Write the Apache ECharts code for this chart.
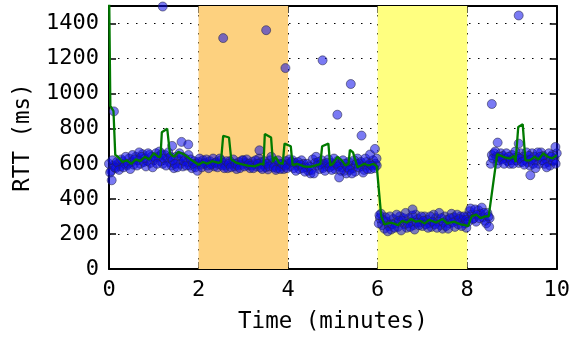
<!DOCTYPE html>
<html>
<head>
<meta charset="utf-8">
<script src="https://cdn.jsdelivr.net/npm/echarts@6/dist/echarts.min.js"></script>
<style>
html,body{margin:0;padding:0;background:#fff;}
#chart{width:573px;height:343px;}
</style>
</head>
<body>
<div id="chart"></div>
<script>
// Regular RTT samples [minutes, ms]
var rttSamples = [
[0.00,600],[0.05,560],[0.10,590],[0.15,575],[0.20,600],[0.25,585],[0.30,615],[0.35,600],[0.40,590],[0.45,630],
[0.50,610],[0.55,595],[0.60,640],[0.65,620],[0.70,600],[0.75,655],[0.80,630],[0.85,615],[0.90,650],[0.95,640],
[1.00,620],[1.05,660],[1.10,640],[1.15,615],[1.20,600],[1.25,650],[1.30,630],[1.35,610],[1.40,590],[1.45,575],
[1.50,640],[1.55,620],[1.60,600],[1.65,585],[1.70,630],[1.75,610],[1.80,590],[1.85,575],[1.90,615],[1.95,600],
[2.00,610],[2.05,595],[2.10,620],[2.15,605],[2.20,590],[2.25,615],[2.30,600],[2.35,585],[2.40,610],[2.45,598],
[2.50,620],[2.55,605],[2.60,590],[2.65,575],[2.70,615],[2.75,600],[2.80,585],[2.85,570],[2.90,610],[2.95,595],
[3.00,620],[3.05,605],[3.10,590],[3.15,575],[3.20,612],[3.25,598],[3.30,585],[3.35,630],[3.40,610],[3.45,595],
[3.50,580],[3.55,568],[3.60,620],[3.65,605],[3.70,590],[3.75,575],[3.80,600],[3.85,585],[3.90,570],[3.95,615],
[4.00,600],[4.05,585],[4.10,620],[4.15,605],[4.20,590],[4.25,570],[4.30,620],[4.35,600],[4.40,580],[4.45,560],
[4.50,545],[4.55,625],[4.60,605],[4.65,590],[4.70,570],[4.75,620],[4.80,600],[4.85,585],[4.90,625],[4.95,605],
[5.00,590],[5.05,570],[5.10,615],[5.15,595],[5.20,580],[5.25,560],[5.30,545],[5.35,610],[5.40,590],[5.45,575],
[5.50,555],[5.55,630],[5.60,600],[5.65,585],[5.70,565],[5.75,610],[5.80,590],[5.85,570],[5.90,620],[5.95,600],
[5.98,590],[6.05,290],[6.10,250],[6.15,230],[6.20,270],[6.25,245],[6.30,225],[6.35,285],[6.40,260],[6.45,240],
[6.50,300],[6.55,275],[6.60,255],[6.65,235],[6.70,290],[6.75,270],[6.80,250],[6.85,310],[6.90,285],[6.95,265],
[7.00,245],[7.05,300],[7.10,280],[7.15,260],[7.20,240],[7.25,310],[7.30,290],[7.35,270],[7.40,250],[7.45,230],
[7.50,300],[7.55,280],[7.60,260],[7.65,315],[7.70,295],[7.75,275],[7.80,255],[7.85,300],[7.90,280],[7.95,260],
[7.98,235],[8.00,300],[8.05,330],[8.10,310],[8.15,290],[8.20,270],[8.25,335],[8.30,315],[8.35,295],[8.40,275],
[8.45,320],[8.50,290],[8.55,650],[8.60,660],[8.65,640],[8.70,620],[8.75,660],[8.80,645],[8.85,630],[8.90,615],
[8.95,600],[9.00,650],[9.05,635],[9.10,620],[9.15,605],[9.20,660],[9.25,640],[9.30,625],[9.35,610],[9.40,590],
[9.45,660],[9.50,640],[9.55,620],[9.60,600],[9.65,665],[9.70,645],[9.75,630],[9.80,610],[9.85,590],[9.90,650],
[9.95,630],[10.00,660]
];
// Interleaved RTT samples [minutes, ms]
var rttSamplesB = [
[0.025,550],[0.075,620],[0.125,580],[0.175,610],[0.225,565],[0.275,625],[0.325,580],[0.375,640],[0.425,600],[0.475,570],
[0.525,650],[0.575,625],[0.625,590],[0.675,665],[0.725,640],[0.775,610],[0.825,585],[0.875,660],[0.925,605],[0.975,580],
[1.025,635],[1.075,600],[1.125,670],[1.175,655],[1.225,630],[1.275,590],[1.325,665],[1.375,640],[1.425,620],[1.475,600],
[1.525,580],[1.575,660],[1.625,640],[1.675,615],[1.725,590],[1.775,650],[1.825,625],[1.875,600],[1.925,580],[1.975,560],
[2.025,630],[2.075,580],[2.125,600],[2.175,625],[2.225,575],[2.275,595],[2.325,630],[2.375,605],[2.425,580],[2.475,630],
[2.525,590],[2.575,575],[2.625,615],[2.675,600],[2.725,580],[2.775,625],[2.825,600],[2.875,590],[2.925,575],[2.975,620],
[3.025,585],[3.075,625],[3.125,600],[3.175,590],[3.225,575],[3.275,620],[3.325,600],[3.375,580],[3.425,570],[3.475,615],
[3.525,600],[3.575,585],[3.625,640],[3.675,580],[3.725,565],[3.775,620],[3.825,570],[3.875,600],[3.925,590],[3.975,575],
[4.025,625],[4.075,610],[4.125,575],[4.175,560],[4.225,610],[4.275,595],[4.325,575],[4.375,555],[4.425,600],[4.475,585],
[4.525,565],[4.575,545],[4.625,640],[4.675,610],[4.725,595],[4.775,575],[4.825,560],[4.875,605],[4.925,580],[4.975,565],
[5.025,630],[5.075,600],[5.125,585],[5.175,560],[5.225,620],[5.275,600],[5.325,580],[5.375,565],[5.425,545],[5.475,620],
[5.525,600],[5.575,580],[5.625,610],[5.675,550],[5.725,630],[5.775,570],[5.825,600],[5.875,590],[5.925,575],[5.975,630],
[6.025,260],[6.075,315],[6.125,280],[6.175,295],[6.225,215],[6.275,300],[6.325,255],[6.375,235],[6.425,310],[6.475,275],
[6.525,220],[6.575,290],[6.625,320],[6.675,260],[6.725,240],[6.775,305],[6.825,225],[6.875,265],[6.925,250],[6.975,300],
[7.025,275],[7.075,255],[7.125,235],[7.175,300],[7.225,270],[7.275,255],[7.325,235],[7.375,320],[7.425,290],[7.475,265],
[7.525,245],[7.575,230],[7.625,290],[7.675,265],[7.725,240],[7.775,310],[7.825,285],[7.875,245],[7.925,300],[7.975,280],
[8.025,270],[8.075,345],[8.125,285],[8.175,340],[8.225,310],[8.275,290],[8.325,350],[8.375,320],[8.425,260],[8.475,300],
[8.525,600],[8.575,630],[8.625,670],[8.675,600],[8.725,640],[8.775,625],[8.825,600],[8.875,660],[8.925,640],[8.975,620],
[9.025,600],[9.075,670],[9.125,640],[9.175,630],[9.225,610],[9.275,595],[9.325,665],[9.375,645],[9.425,625],[9.475,600],
[9.525,575],[9.575,665],[9.625,640],[9.675,620],[9.725,600],[9.775,580],[9.825,660],[9.875,640],[9.925,615],[9.975,600]
];
// Outlier RTT samples [minutes, ms]
var rttOutliers = [
[0.06,506],[0.11,899],[1.20,1497],[1.41,702],[1.62,725],[1.77,710],[2.55,1317],[3.36,677],[3.51,1362],
[3.94,1146],[4.77,1190],[5.10,880],[5.14,522],[5.40,1055],[5.64,761],[5.83,653],[5.94,685],[6.04,307],
[6.78,340],[8.49,241],[8.55,941],[8.68,721],[9.15,1446],[9.15,715],[9.41,535],[9.97,696]
];
// Smoothed RTT (green line) [minutes, ms]
var rttSmooth = [
[0,1650],[0.03,930],[0.10,900],[0.14,650],[0.20,640],[0.30,610],[0.40,620],[0.50,600],[0.60,625],[0.70,615],
[0.80,640],[0.90,625],[1.00,660],[1.10,640],[1.15,640],[1.18,780],[1.30,800],[1.36,660],[1.45,640],[1.55,668],
[1.70,650],[1.85,620],[2.00,595],[2.10,610],[2.20,600],[2.30,615],[2.45,605],[2.50,610],[2.55,760],[2.68,750],
[2.73,625],[2.85,605],[3.00,595],[3.10,590],[3.25,585],[3.40,600],[3.45,595],[3.48,770],[3.62,750],[3.66,610],
[3.72,640],[3.80,605],[3.88,600],[3.92,715],[4.06,700],[4.10,592],[4.20,600],[4.35,585],[4.50,582],[4.60,590],
[4.72,600],[4.76,700],[4.90,715],[4.94,590],[5.00,600],[5.10,640],[5.20,620],[5.28,590],[5.35,600],[5.38,680],
[5.45,665],[5.55,580],[5.70,600],[5.80,590],[5.90,600],[5.98,585],[6.08,300],[6.15,255],[6.30,265],[6.45,250],
[6.55,275],[6.65,265],[6.75,285],[6.85,270],[6.95,275],[7.05,260],[7.15,280],[7.30,265],[7.45,285],[7.55,260],
[7.70,270],[7.85,255],[7.95,250],[8.02,245],[8.10,300],[8.20,310],[8.30,290],[8.40,300],[8.48,300],[8.67,655],
[8.80,640],[8.95,630],[9.05,645],[9.08,610],[9.14,810],[9.24,825],[9.30,620],[9.40,620],[9.50,640],[9.60,625],
[9.70,660],[9.80,640],[9.90,630],[10.00,650]
];
// Highlighted intervals [start, end, colour]
var bands = [[2,4,'#FDD17F'],[6,8,'#FFFF80']];
var xTicks = [0,2,4,6,8,10];
var yTicks = [0,200,400,600,800,1000,1200,1400];

var FONT = 'DejaVu Sans Mono';
var chart = echarts.init(document.getElementById('chart'), null, {renderer:'canvas'});
var grid = {left:109, right:15, top:6, bottom:74};
var dotted = {color:'#000', width:1, type:[1.5,7.5]};
function baseAxis(extra){
  return Object.assign({
    type:'value',
    axisLine:{show:true, onZero:false, lineStyle:{color:'#000', width:2}},
    axisTick:{show:true, inside:true, length:7, lineStyle:{color:'#000', width:1.5}},
    axisLabel:{show:false},
    splitLine:{show:false}
  }, extra);
}
var option = {
  animation:false,
  backgroundColor:'#fff',
  grid:grid,
  xAxis:[
    baseAxis({position:'bottom', min:xTicks[0], max:xTicks[xTicks.length-1], interval:2,
      axisLabel:{show:true, fontFamily:FONT, fontSize:22, color:'#000', margin:10},
      splitLine:{show:true, lineStyle:dotted},
      name:'Time (minutes)', nameLocation:'middle', nameGap:42,
      nameTextStyle:{fontFamily:FONT, fontSize:22.5, color:'#000'}}),
    baseAxis({position:'top', min:xTicks[0], max:xTicks[xTicks.length-1], interval:2})
  ],
  yAxis:[
    baseAxis({position:'left', min:0, max:1500, interval:200,
      axisLabel:{show:true, fontFamily:FONT, fontSize:22, color:'#000', margin:10,
        formatter:function(v){return yTicks.indexOf(v)>=0 ? String(v) : '';}},
      splitLine:{show:true, lineStyle:dotted},
      name:'RTT (ms)', nameLocation:'middle', nameGap:72, nameRotate:90,
      nameTextStyle:{fontFamily:FONT, fontSize:22.5, color:'#000'}}),
    baseAxis({position:'right', min:0, max:1500, interval:200})
  ],
  series:[
    {type:'line', data:[], z:-1, silent:true,
      markArea:{silent:true, data: bands.map(function(b){
        return [{xAxis:b[0], itemStyle:{color:b[2], opacity:1}}, {xAxis:b[1]}];
      })}},
    {type:'scatter', data:rttSamples.concat(rttSamplesB, rttOutliers), symbolSize:9, z:3, clip:true,
      itemStyle:{color:'rgba(10,10,235,0.68)', borderColor:'rgba(40,40,70,0.7)', borderWidth:1}},
    {type:'line', data:rttSmooth, showSymbol:false, symbol:'none', z:4, clip:true,
      lineStyle:{color:'#007a00', width:2.3}}
  ]
};
chart.setOption(option);
</script>
</body>
</html>
